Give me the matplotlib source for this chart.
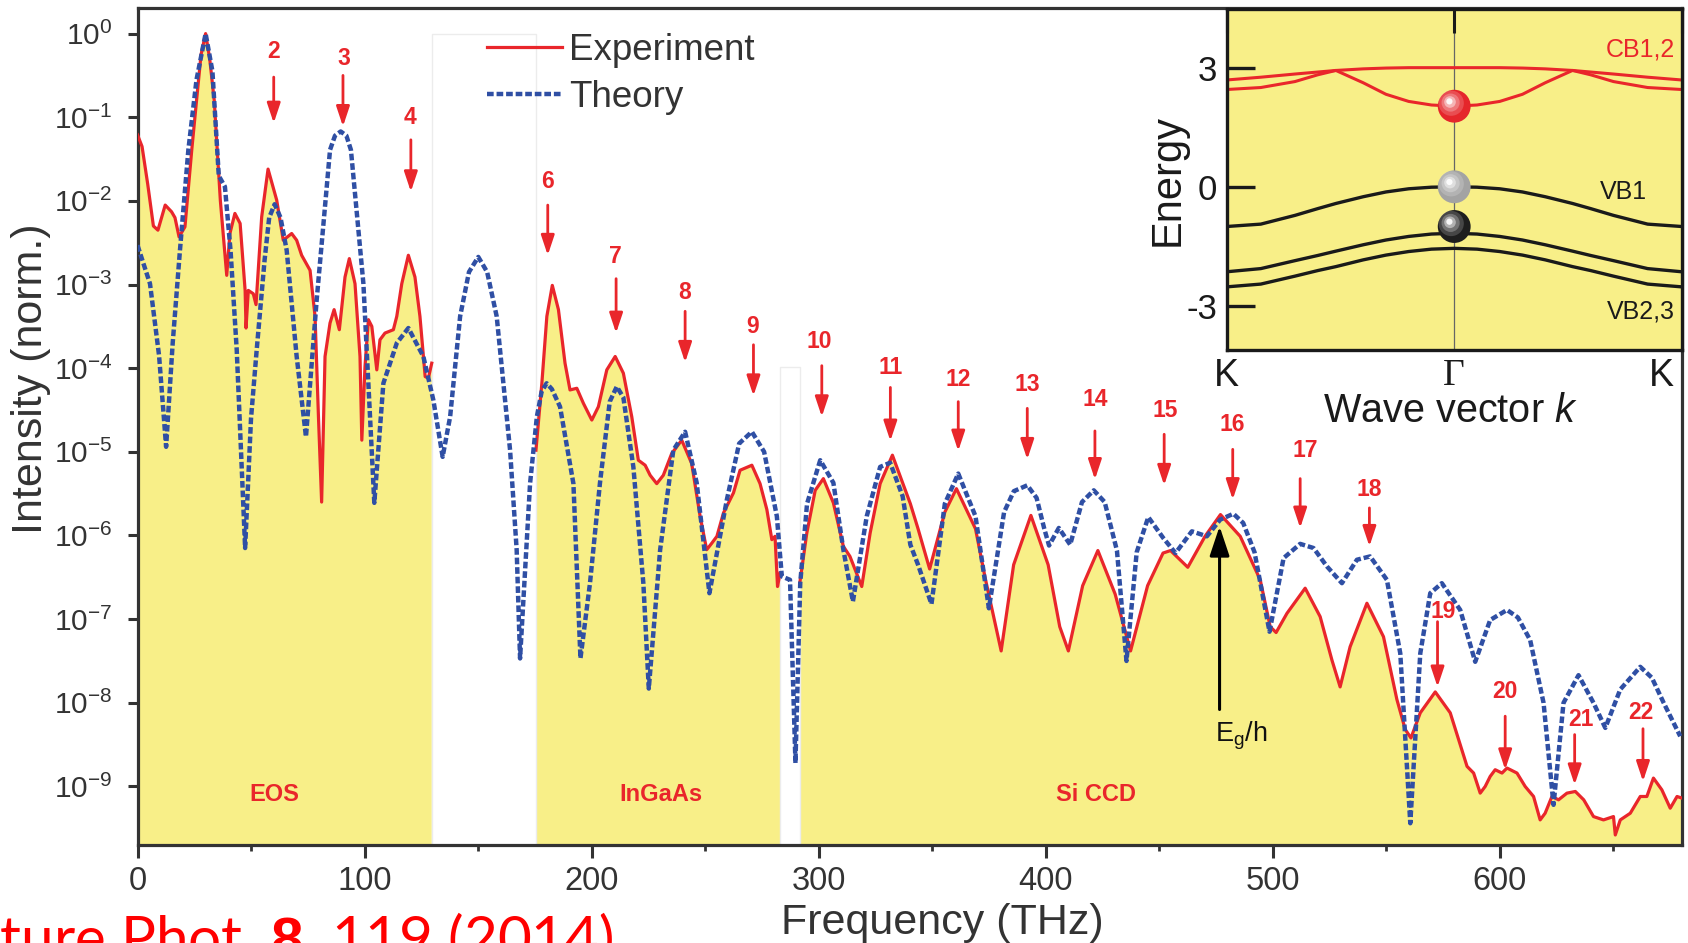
import numpy as np
import matplotlib
matplotlib.use("Agg")
import matplotlib.pyplot as plt
from matplotlib.patches import Rectangle
from matplotlib.lines import Line2D
from matplotlib.transforms import offset_copy

plt.rcParams["font.family"] = ["Liberation Sans", "DejaVu Sans"]
plt.rcParams["mathtext.fontset"] = "custom"
plt.rcParams["mathtext.rm"] = "Liberation Sans"
plt.rcParams["mathtext.it"] = "Liberation Sans:italic"
plt.rcParams["mathtext.bf"] = "Liberation Sans:bold"

# =====================================================
#   data (intensity as log10)
# =====================================================

theory_freq = [0, 5.5, 9.5, 12.6, 15.5, 18.7, 22.4, 26, 30, 33, 35.8, 38.5, 41, 43.7,
               47.4, 50, 52.5, 56, 58, 60.4, 63, 65.7, 70.1, 74.2, 78.9, 84.8, 87, 89.5,
               92, 94, 99.5, 104.3, 108.3, 114.2, 119.3, 125.9, 130.3, 134.4, 137.7,
               142.1, 146, 150.1, 154, 158.2, 164.1, 167, 168.5, 172.9, 175.9, 178,
               180.2, 182.5, 186.1, 192, 195.1, 199.3, 203.7, 208, 211.1, 214, 218.4,
               222.8, 225.2, 230.2, 236, 241.2, 246.3, 251.9, 259.6, 265, 270.6, 276,
               281.6, 283.8, 287.4, 289.8, 291.9, 294.9, 300.7, 306.5, 310.9, 315.1,
               321.2, 327.1, 331.5, 337, 340.4, 343.8, 349.7, 355.6, 361.5, 369.1, 375,
               381.7, 386, 391.9, 396, 399.4, 401.5, 405.8, 410.8, 416, 421.2, 426,
               431.4, 435.6, 440.1, 445.2, 451.8, 457.2, 464.4, 471, 476.9, 482.7, 487,
               492, 498.6, 504.8, 512.1, 518, 523.9, 530.5, 537.1, 542.9, 550.3, 556.2,
               560.6, 565, 569.4, 574.5, 582.6, 589.2, 595.8, 603.2, 608, 613.4, 619.3,
               623.7, 628.1, 634.7, 641.3, 646.5, 653.1, 661.9, 667, 672.2, 679.5]
theory_log10 = [-2.53, -2.99, -3.85, -4.94, -3.7, -2.59, -1.39, -0.55, 0.0, -0.45, -1.70,
                -1.83, -2.6, -3.78, -6.15, -4.6, -3.78, -2.7, -2.2, -2.04, -2.2, -2.59,
                -3.86, -4.82, -3.19, -1.39, -1.22, -1.17, -1.22, -1.39, -2.99, -5.61,
                -4.18, -3.70, -3.52, -3.86, -4.38, -5.06, -4.58, -3.38, -2.85, -2.67,
                -2.85, -3.38, -4.98, -6.17, -7.47, -5.38, -4.58, -4.28, -4.18, -4.25,
                -4.46, -5.38, -7.47, -6.57, -5.37, -4.4, -4.22, -4.35, -5.18, -6.57,
                -7.83, -6.17, -4.98, -4.76, -5.37, -6.69, -5.57, -4.9, -4.76, -5.0,
                -5.77, -6.49, -6.53, -8.72, -6.57, -5.62, -5.10, -5.37, -6.17, -6.79,
                -5.77, -5.18, -5.13, -5.53, -6.11, -6.35, -6.82, -5.62, -5.26, -5.77,
                -6.87, -5.72, -5.47, -5.40, -5.55, -5.92, -6.12, -5.91, -6.11, -5.6,
                -5.46, -5.6, -6.18, -7.50, -6.2, -5.78, -6.03, -6.21, -5.95, -6.01,
                -5.81, -5.74, -5.85, -6.2, -7.15, -6.27, -6.10, -6.15, -6.37, -6.57,
                -6.29, -6.25, -6.53, -7.41, -9.44, -7.41, -6.69, -6.57, -6.89, -7.51,
                -7.01, -6.89, -6.98, -7.25, -8.0, -9.22, -8.0, -7.67, -8.0, -8.30,
                -7.84, -7.57, -7.7, -8.0, -8.40]

eos_freq = [0, 2, 4.5, 7, 9, 12.2, 15, 16.5, 18.3, 20.9, 23.9, 26, 28, 30, 31.8, 33.8,
            36.5, 39.3, 40.7, 42.9, 45.2, 47.4, 47.8, 48.8, 51.0, 52.2, 54.7, 57.5,
            61.3, 64.2, 67.9, 70.1, 72.3, 76, 78.2, 79.7, 81.1, 82.6, 84.8, 86.6, 88.9,
            91.4, 93.3, 95.8, 98, 98.8, 100.2, 101.7, 103.2, 105.4, 106.8, 109, 112.7,
            114.2, 116.4, 119.3, 122.2, 124.4, 126.7, 128.1, 129.6]
eos_log10 = [-1.21, -1.35, -1.8, -2.3, -2.35, -2.05, -2.13, -2.2, -2.43, -2.31, -1.39,
             -0.8, -0.25, 0.0, -0.3, -0.8, -2.0, -2.89, -2.39, -2.15, -2.27, -3.07,
             -3.52, -3.07, -3.11, -3.24, -2.19, -1.62, -1.99, -2.47, -2.39, -2.47,
             -2.65, -2.83, -3.38, -4.58, -5.60, -3.86, -3.46, -3.30, -3.54, -2.91,
             -2.69, -2.99, -3.86, -4.86, -3.98, -3.42, -3.50, -4.02, -3.66, -3.58,
             -3.54, -3.38, -2.99, -2.65, -2.91, -3.38, -4.10, -4.12, -3.94]

ingaas_freq = [175.5, 178.1, 180.3, 182.7, 185.4, 188.3, 190.5, 193.5, 196.4, 200.1,
               203, 206.7, 210.4, 214, 217.7, 220.6, 223.6, 225.8, 228.7, 231.6, 235.3,
               239.7, 244.1, 247.8, 250.7, 253, 255.2, 258.1, 262.5, 265.4, 270.6,
               274.2, 277.2, 279.4, 280.8, 281.9, 283]
ingaas_log10 = [-4.98, -4.18, -3.38, -3.01, -3.30, -3.94, -4.26, -4.24, -4.42, -4.62,
                -4.46, -4.02, -3.86, -4.06, -4.58, -5.10, -5.16, -5.28, -5.38, -5.28,
                -5.02, -4.86, -5.14, -5.77, -6.17, -6.09, -6.01, -5.73, -5.49, -5.22,
                -5.16, -5.38, -5.69, -6.05, -6.01, -6.61, -6.45]

siccd_freq = [291.7, 294.8, 298.5, 302.1, 306.5, 310.9, 313.8, 319, 322.7, 327.1, 332.5,
              340.4, 343.8, 348.9, 355.6, 360.7, 369.1, 373.3, 380.4, 385.9, 393.5,
              401.1, 406.2, 410, 416.3, 423, 430.6, 437.4, 444.9, 451.7, 455, 462.6,
              470.2, 477, 485.7, 494.5, 498.9, 501.5, 506.3, 514.3, 520.9, 526.1, 529.7,
              534.1, 541.5, 548.8, 554.7, 558.4, 560.9, 565, 571.6, 578.2, 585.6, 588.5,
              591.4, 593.6, 595.8, 598, 601, 603.2, 607.6, 611.2, 614.9, 617.8, 620, 623,
              625.9, 629.6, 633.3, 637, 641.3, 645.7, 650.1, 650.9, 653.1, 657.5, 661.9,
              664.8, 667.7, 671.4, 675.1, 678.1, 680.3]
siccd_log10 = [-6.57, -5.97, -5.46, -5.32, -5.61, -6.13, -6.25, -6.61, -5.97, -5.38,
               -5.04, -5.62, -5.92, -6.40, -5.72, -5.44, -5.92, -6.50, -7.38, -6.35,
               -5.76, -6.35, -7.09, -7.38, -6.60, -6.18, -6.70, -7.38, -6.60, -6.21,
               -6.18, -6.38, -6.01, -5.75, -6.01, -6.53, -7.09, -7.16, -6.93, -6.63,
               -6.97, -7.49, -7.81, -7.33, -6.81, -7.21, -7.96, -8.32, -8.42, -8.12,
               -7.87, -8.12, -8.76, -8.84, -9.08, -9.00, -8.88, -8.80, -8.84, -8.78,
               -8.84, -9.00, -9.12, -9.40, -9.32, -9.12, -9.16, -9.08, -9.06, -9.16,
               -9.36, -9.40, -9.36, -9.58, -9.40, -9.32, -9.12, -9.12, -8.90, -9.04,
               -9.26, -9.12, -9.14]

# detector ranges (THz) and their labels
detector_names = ["EOS", "InGaAs", "Si CCD"]
detector_label_freq = [60.3, 230.5, 422.2]
gap_ranges = [(129.6, 175.5), (283.0, 291.7)]
gap_top_log10 = [0.0, -3.98]

# numbered harmonic markers
peak_ids = [2, 3, 4, 6, 7, 8, 9, 10, 11, 12, 13, 14, 15, 16, 17, 18, 19, 20, 21, 22]
peak_arrow_freq = [60.0, 90.5, 120.4, 180.7, 210.8, 241.2, 271.3, 301.4, 331.6, 361.5,
                   391.9, 421.7, 452.2, 482.4, 512.1, 542.6, 572.6, 602.4, 633.0, 663.1]
peak_label_freq = [60.0, 90.9, 120.0, 180.7, 210.6, 241.2, 271.0, 300.2, 331.6, 361.5,
                   391.9, 421.7, 452.5, 482.4, 514.3, 542.6, 575.2, 602.4, 635.7, 662.2]
peak_label_log10 = [-0.22, -0.30, -1.00, -1.77, -2.66, -3.09, -3.50, -3.68, -3.99, -4.14,
                    -4.20, -4.38, -4.51, -4.67, -4.98, -5.45, -6.91, -7.87, -8.20, -8.12]
arrow_top_log10 = [-0.52, -0.50, -1.27, -2.05, -2.93, -3.32, -3.72, -3.97, -4.23, -4.40,
                   -4.48, -4.75, -4.79, -4.97, -5.32, -5.67, -7.03, -8.16, -8.38, -8.31]
arrow_tip_log10 = [-1.07, -1.11, -1.89, -2.65, -3.58, -3.93, -4.33, -4.58, -4.87, -4.99,
                   -5.09, -5.33, -5.40, -5.57, -5.91, -6.13, -7.81, -8.80, -8.98, -8.94]

# band gap marker
eg_freq = 476.6
eg_tail_log10 = -8.08
eg_tip_log10 = -5.89

# inset band structure, half from K (k=-1) to Gamma (k=0), mirrored
band_k = [-1.0, -0.85, -0.7, -0.6, -0.52, -0.4, -0.3, -0.2, -0.1, 0.0]
cb_flat = [2.45, 2.50, 2.65, 2.82, 2.93, 2.97, 2.99, 3.0, 3.0, 3.0]
cb_dip = [2.69, 2.76, 2.84, 2.89, 2.93, 2.62, 2.33, 2.15, 2.06, 2.03]
vb1 = [-1.0, -0.94, -0.72, -0.55, -0.42, -0.25, -0.13, -0.05, -0.01, 0.0]
vb2 = [-2.14, -2.06, -1.86, -1.73, -1.62, -1.46, -1.34, -1.25, -1.19, -1.17]
vb3 = [-2.52, -2.45, -2.25, -2.11, -2.01, -1.84, -1.72, -1.63, -1.57, -1.55]
ball_E = [2.03, 0.0, -1.0]
ball_colors = ["#e5262b", "#a3a3a3", "#1e1e1e"]

RED = "#e9262b"
BLUE = "#2f4fa4"
YELLOW = "#f8ef88"
GREY = "#333333"

# =====================================================
#   main panel
# =====================================================

fig = plt.figure(figsize=(16.88, 9.43), dpi=100)
ax = fig.add_axes([0.08146, 0.10392, 0.91528, 0.88707])

for (f0, f1), top in zip(gap_ranges, gap_top_log10):
    ax.add_patch(Rectangle((f0, 1e-12), f1 - f0, 10 ** top - 1e-12, facecolor="white",
                           edgecolor="#ececec", lw=1.0, zorder=1.5))

for fr, lg in [(eos_freq, eos_log10), (ingaas_freq, ingaas_log10), (siccd_freq, siccd_log10)]:
    inten = 10.0 ** np.array(lg)
    ax.fill_between(fr, inten, 1e-12, color=YELLOW, lw=0, zorder=1)
    ax.plot(fr, inten, color=RED, lw=2.3, zorder=3, solid_joinstyle="round")

ax.plot(theory_freq, 10.0 ** np.array(theory_log10), color=BLUE, lw=3.2,
        linestyle=(0, (1.5, 0.65)), zorder=4)

for i, pid in enumerate(peak_ids):
    ax.annotate("", xy=(peak_arrow_freq[i], 10 ** arrow_tip_log10[i]),
                xytext=(peak_arrow_freq[i], 10 ** arrow_top_log10[i]),
                arrowprops=dict(arrowstyle="-|>,head_length=0.6,head_width=0.2",
                                color=RED, lw=2.0, shrinkA=0, shrinkB=0,
                                mutation_scale=20), zorder=6)
    ax.text(peak_label_freq[i], 10 ** peak_label_log10[i], str(pid), color=RED,
            fontsize=16.5, fontweight="bold", ha="center", va="center", zorder=6)

for name, fx in zip(detector_names, detector_label_freq):
    ax.text(fx, 10 ** -9.1, name, color=RED, fontsize=17, fontweight="bold",
            ha="center", va="center", zorder=6)

ax.annotate("", xy=(eg_freq, 10 ** eg_tip_log10), xytext=(eg_freq, 10 ** eg_tail_log10),
            arrowprops=dict(arrowstyle="-|>,head_length=0.9,head_width=0.3",
                            color="black", lw=2.2, shrinkA=0, shrinkB=0,
                            mutation_scale=20), zorder=6)
ax.text(474.7, 10 ** -8.46, r"E$_\mathregular{g}$/h", fontsize=19.5, color="#111111",
        ha="left", va="baseline", zorder=6)

ax.set_yscale("log")
ax.set_xlim(0, 680.5)
ax.set_ylim(10 ** -9.70, 10 ** 0.30)
ax.set_yticks([10.0 ** e for e in range(-9, 1)])
ax.set_yticklabels([r"$10^{%d}$" % e for e in range(-9, 1)])
ax.yaxis.set_minor_locator(matplotlib.ticker.NullLocator())
ax.set_xticks([0, 100, 200, 300, 400, 500, 600])
ax.set_xticks(np.arange(50, 700, 100), minor=True)
ax.tick_params(axis="both", which="major", direction="out", colors=GREY, width=2.2)
ax.tick_params(axis="y", which="major", length=7, pad=11, labelsize=21.5)
ax.tick_params(axis="x", which="major", length=9, pad=6, labelsize=23.5)
ax.tick_params(axis="x", which="minor", direction="out", length=4.5, width=2.0, colors=GREY)
for sp in ax.spines.values():
    sp.set_color(GREY)
    sp.set_linewidth(2.3)

ax.set_xlabel("Frequency (THz)", fontsize=31, color=GREY, va="baseline")
ax.xaxis.set_label_coords(0.521, -0.1064)
ax.set_ylabel("Intensity (norm.)", fontsize=31, color=GREY, va="center")
ax.yaxis.set_label_coords(-0.0689, 0.557)

handles = [Line2D([], [], color=RED, lw=2.3),
           Line2D([], [], color=BLUE, lw=3.2, linestyle=(0, (1.5, 0.65)))]
ax.legend(handles, ["Experiment", "Theory"], loc="upper left",
          bbox_to_anchor=(0.226, 0.971), frameon=False, fontsize=26.5,
          handlelength=2.05, handletextpad=0.2, labelspacing=0.32, borderpad=0,
          borderaxespad=0, labelcolor=GREY)

# =====================================================
#   inset: band structure
# =====================================================

ax_in = fig.add_axes([0.7267, 0.62884, 0.2696, 0.3613], facecolor=YELLOW)
k_full = np.concatenate([band_k, -np.array(band_k[::-1][1:])])


def mirror(vals):
    return np.concatenate([vals, vals[::-1][1:]])


ax_in.axvline(0, color="#666666", lw=0.9, zorder=1)
for band in (cb_flat, cb_dip):
    ax_in.plot(k_full, mirror(band), color=RED, lw=2.2, zorder=2)
for band in (vb1, vb2, vb3):
    ax_in.plot(k_full, mirror(band), color="#1a1a1a", lw=2.4, zorder=2)

for e, c in zip(ball_E, ball_colors):
    ax_in.scatter([0], [e], s=560, color=c, edgecolors="none", zorder=5)
    for j, (sz, a) in enumerate([(330, 0.18), (170, 0.25), (70, 0.45), (20, 0.9)]):
        tr = offset_copy(ax_in.transData, fig=fig, x=-3 - 0.6 * j, y=3 + 0.6 * j, units="dots")
        ax_in.scatter([0], [e], s=sz, color="white", alpha=a, edgecolors="none",
                      zorder=6 + j, transform=tr)

ax_in.text(0.97, 3.45, "CB1,2", color=RED, fontsize=18, ha="right", va="center")
ax_in.text(0.64, -0.14, "VB1", color="#1a1a1a", fontsize=18, ha="left", va="center")
ax_in.text(0.97, -3.15, "VB2,3", color="#1a1a1a", fontsize=18, ha="right", va="center")

ax_in.set_xlim(-1, 1)
ax_in.set_ylim(-4.11, 4.47)
ax_in.set_yticks([-3, 0, 3])
ax_in.set_yticklabels(["-3", "0", "3"])
ax_in.set_xticks([-1, 0, 1])
ax_in.set_xticklabels(["K", "\u0393", "K"])
ax_in.get_xticklabels()[1].set_fontfamily("Liberation Serif")
ax_in.tick_params(axis="y", direction="in", length=20, width=2.4, pad=7,
                  labelsize=25, colors="#1a1a1a")
ax_in.tick_params(axis="x", bottom=False, top=True, direction="in", length=17,
                  width=2.2, pad=6, labelsize=27, colors="#1a1a1a")
lab_last = ax_in.get_xticklabels()[-1]
lab_last.set_transform(offset_copy(lab_last.get_transform(), fig=fig, x=-20, y=0, units="dots"))
for sp in ax_in.spines.values():
    sp.set_color("#1a1a1a")
    sp.set_linewidth(2.4)

ax_in.set_ylabel("Energy", fontsize=30, color="#1a1a1a", va="center")
ax_in.yaxis.set_label_coords(-0.13, 0.5)
ax_in.set_xlabel("Wave vector $k$", fontsize=28.5, color="#1a1a1a", va="baseline")
ax_in.xaxis.set_label_coords(0.491, -0.21)

# citation, cut off at the figure's left and bottom edges like the slide it came from
cite_size = 42
renderer = fig.canvas.get_renderer()
probe = fig.text(0, 0, "Na", fontsize=cite_size, family=["Lato", "DejaVu Sans"])
na_width = probe.get_window_extent(renderer).width
probe.remove()
fig.text(-na_width / 1688, -15 / 943, r"Nature Phot. $\mathbf{8}$, 119 (2014)",
         color="#ff0000", fontsize=cite_size, family=["Lato", "DejaVu Sans"],
         ha="left", va="baseline")

fig.savefig("out.png", dpi=100)
